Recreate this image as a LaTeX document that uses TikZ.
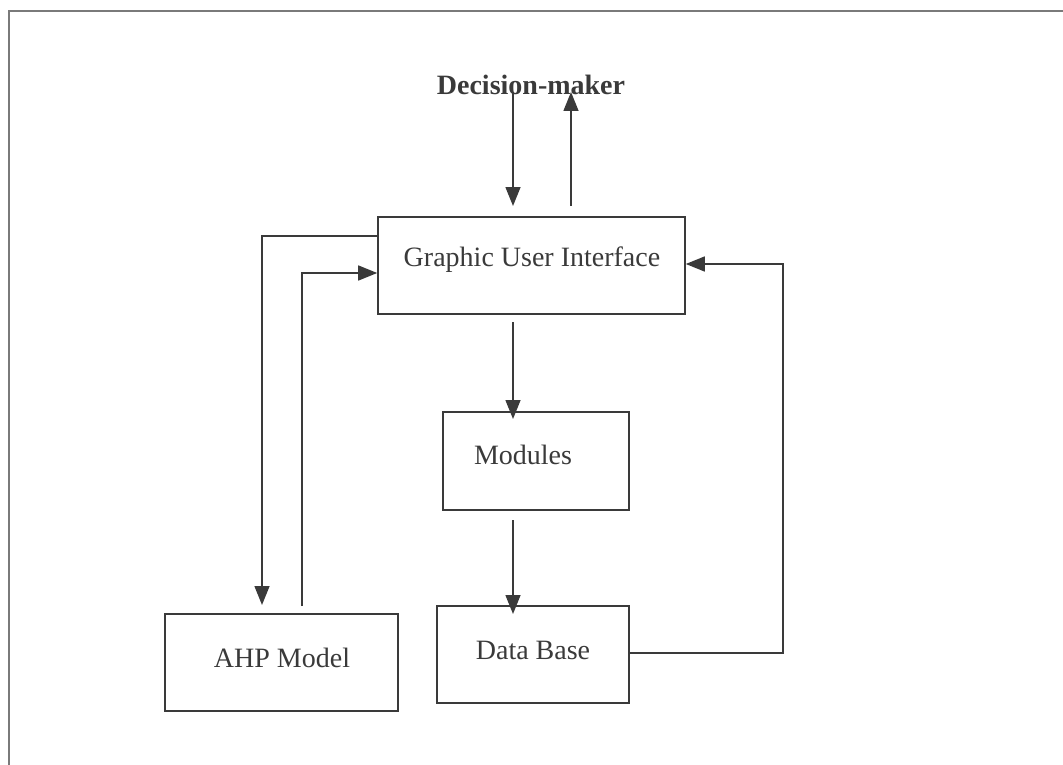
\documentclass[tikz,border=0pt]{standalone}
\usepackage{fontspec}
\setmainfont{Liberation Serif}
\usetikzlibrary{arrows.meta}
\definecolor{ink}{HTML}{3A3A3A}
\definecolor{frame}{HTML}{7A7A7A}
\tikzset{
  box/.style={draw=ink, line width=1.6pt, rectangle, inner sep=0pt},
  txt/.style={text=ink, font=\fontsize{28}{32}\selectfont, inner sep=0pt},
  conn/.style={draw=ink, line width=1.5pt},
  arr/.style={conn, -{Triangle[length=19pt,width=15pt]}},
}
\begin{document}
\begin{tikzpicture}[x=1pt,y=-1pt]
\useasboundingbox (0,0) rectangle (1063,765);
% frame (top and left edges only)
\draw[frame, line width=2pt] (9,765) -- (9,11) -- (1063,11);

% nodes
\node[txt, font=\fontsize{28}{32}\selectfont\bfseries] (dm) at (531,85) {Decision-maker};
\node[box, minimum width=307pt, minimum height=97pt] (gui) at (531.5,265.5) {};
\node[txt] at (532,260) {Graphic User Interface};
\node[box, minimum width=186pt, minimum height=98pt] (mod) at (536,461) {};
\node[txt] at (523,455) {Modules};
\node[box, minimum width=192pt, minimum height=97pt] (db) at (533,654.5) {};
\node[txt] at (533,650) {Data Base};
\node[box, minimum width=233pt, minimum height=97pt] (ahp) at (281.5,662.5) {};
\node[txt] at (282,658) {AHP Model};

% connector end points
\coordinate (dmA) at (513,92);
\coordinate (guiA) at (513,206);
\coordinate (guiB) at (571,206);
\coordinate (dmB) at (571,92);
\coordinate (ahpIn) at (262,605);
\coordinate (ahpOut) at (302,606);
\coordinate (guiOut) at (513,322);
\coordinate (modIn) at (513,419);
\coordinate (modOut) at (513,520);
\coordinate (dbIn) at (513,614);

% connectors
\draw[arr] (dmA) -- (guiA);
\draw[arr] (guiB) -- (dmB);
\draw[arr] (gui.west |- 0,236) -- (262,236) -- (ahpIn);
\draw[arr] (ahpOut) -- (302,273) -- (gui.west |- 0,273);
\draw[arr] (guiOut) -- (modIn);
\draw[arr] (modOut) -- (dbIn);
\draw[arr] (db.east |- 0,653) -- (783,653) -- (783,264) -- (gui.east |- 0,264);
\end{tikzpicture}
\end{document}
